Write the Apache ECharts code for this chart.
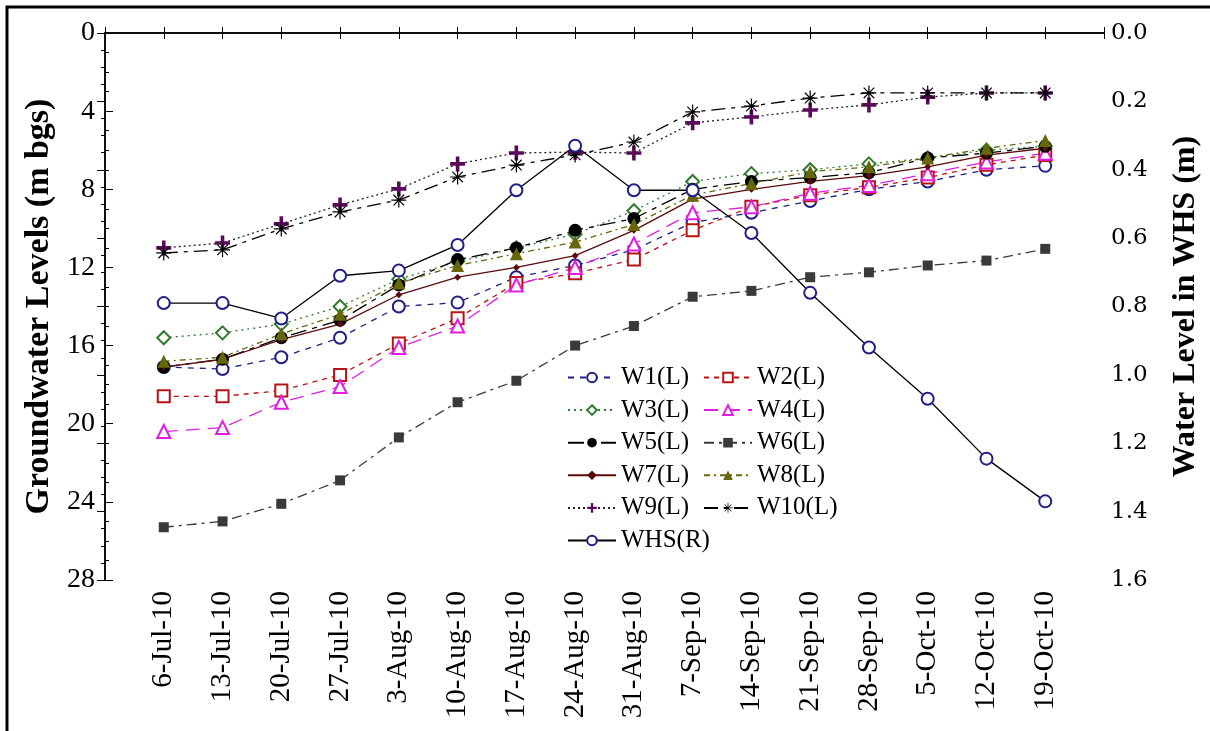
<!DOCTYPE html>
<html>
<head>
<meta charset="utf-8">
<script src="https://cdn.jsdelivr.net/npm/echarts@6/dist/echarts.min.js"></script>
<style>
  html, body { margin: 0; padding: 0; background: #fff; }
  #chart { width: 1210px; height: 731px; }
</style>
</head>
<body>
<div id="chart"></div>
<script>
var dates = ['6-Jul-10', '13-Jul-10', '20-Jul-10', '27-Jul-10', '3-Aug-10', '10-Aug-10', '17-Aug-10', '24-Aug-10',
    '31-Aug-10', '7-Sep-10', '14-Sep-10', '21-Sep-10', '28-Sep-10', '5-Oct-10', '12-Oct-10', '19-Oct-10'];

// groundwater levels, m bgs (left axis)
var w1 = [17.1, 17.2, 16.6, 15.6, 14.0, 13.8, 12.5, 11.9, 11.1, 9.7, 9.2, 8.6, 8.0, 7.6, 7.0, 6.8];
var w2 = [18.6, 18.6, 18.3, 17.5, 15.9, 14.6, 12.8, 12.3, 11.6, 10.1, 8.9, 8.3, 7.9, 7.4, 6.75, 6.25];
var w3 = [15.6, 15.35, 14.9, 14.0, 12.6, 11.7, 11.0, 10.3, 9.1, 7.6, 7.2, 7.0, 6.7, 6.4, 6.0, 5.8];
var w4 = [20.4, 20.2, 18.9, 18.1, 16.1, 15.0, 12.9, 12.0, 10.8, 9.2, 8.9, 8.2, 7.8, 7.2, 6.6, 6.15];
var w5 = [17.1, 16.7, 15.6, 14.7, 12.9, 11.6, 11.0, 10.1, 9.5, 8.0, 7.6, 7.4, 7.15, 6.4, 6.15, 5.8];
var w6 = [25.3, 25.0, 24.1, 22.9, 20.7, 18.9, 17.8, 16.0, 15.0, 13.5, 13.2, 12.5, 12.25, 11.9, 11.65, 11.05];
var w7 = [17.1, 16.7, 15.7, 14.9, 13.4, 12.5, 12.0, 11.4, 10.1, 8.5, 8.0, 7.6, 7.3, 6.85, 6.25, 5.9];
var w8 = [16.8, 16.6, 15.4, 14.4, 12.8, 11.9, 11.3, 10.7, 9.8, 8.3, 7.7, 7.1, 6.85, 6.4, 5.9, 5.5];
var w9 = [11.0, 10.75, 9.77, 8.8, 7.98, 6.7, 6.14, 6.1, 6.14, 4.6, 4.3, 3.94, 3.68, 3.28, 3.07, 3.07];
var w10 = [11.26, 11.1, 10.03, 9.16, 8.55, 7.37, 6.76, 6.24, 5.58, 4.04, 3.74, 3.33, 3.07, 3.07, 3.07, 3.07];
// water level in WHS, m (right axis)
var whs = [0.79, 0.79, 0.835, 0.71, 0.695, 0.62, 0.46, 0.33, 0.46, 0.46, 0.585, 0.76, 0.92, 1.07, 1.245, 1.37];

var legendCol1 = ['W1(L)', 'W3(L)', 'W5(L)', 'W7(L)', 'W9(L)', 'WHS(R)'];
var legendCol2 = ['W2(L)', 'W4(L)', 'W6(L)', 'W8(L)', 'W10(L)'];

var serif = 'Liberation Serif';
var plusPath = 'path://M3.8,0 H6.2 V3.8 H10 V6.2 H6.2 V10 H3.8 V6.2 H0 V3.8 H3.8 Z';
var starPath = 'path://M0,9.2 H20 V10.8 H0 Z M9.2,0 H10.8 V20 H9.2 Z M2.4,3.5 L3.5,2.4 L17.6,16.5 L16.5,17.6 Z M16.5,2.4 L17.6,3.5 L3.5,17.6 L2.4,16.5 Z';

function pts(arr) {
    return arr.map(function (v, i) { return [i + 1, v]; });
}

function line(name, data, color, dash, symbol, size, lineColor, axis) {
    return {
        name: name,
        type: 'line',
        yAxisIndex: axis || 0,
        data: pts(data),
        symbol: symbol,
        symbolSize: size,
        showAllSymbol: true,
        itemStyle: { color: color, borderWidth: 1.3 },
        lineStyle: { color: lineColor || color, width: 1.3, type: dash },
        emphasis: { disabled: true },
        animation: false
    };
}

function legend(left, names) {
    return {
        orient: 'vertical', left: left, top: 365, padding: 0,
        itemWidth: 48, itemHeight: 12, itemGap: 7.6,
        textStyle: { fontFamily: serif, fontSize: 25, color: '#000' },
        data: names
    };
}

var chart = echarts.init(document.getElementById('chart'));
var option = {
    backgroundColor: '#fff',
    animation: false,
    grid: { left: 105, right: 104, top: 33, bottom: 151 },
    legend: [legend(567, legendCol1), legend(703, legendCol2)],
    graphic: [{
        type: 'rect',
        shape: { x: 7, y: 7, width: 1230, height: 760 },
        style: { fill: 'none', stroke: '#000', lineWidth: 3 },
        silent: true
    }],
    xAxis: [{
        type: 'value', min: 0, max: 17, interval: 1, position: 'bottom',
        axisLine: { lineStyle: { color: '#000', width: 1.5 } },
        axisTick: { inside: true, length: 6, lineStyle: { color: '#000' } },
        splitLine: { show: false },
        axisLabel: {
            rotate: 90, margin: 11, fontFamily: serif, fontSize: 29, color: '#000',
            formatter: function (v) { return dates[v - 1] || ''; }
        }
    }, {
        type: 'value', min: 0, max: 17, interval: 1, position: 'top',
        axisLine: { lineStyle: { color: '#000', width: 1.5 } },
        axisTick: { inside: true, length: 6, lineStyle: { color: '#000' } },
        splitLine: { show: false },
        axisLabel: { show: false }
    }],
    yAxis: [{
        type: 'value', inverse: true, min: 0, max: 28, interval: 4, position: 'left',
        name: 'Groundwater Levels (m bgs)', nameLocation: 'middle', nameRotate: 90, nameGap: 47,
        nameTextStyle: { fontFamily: serif, fontSize: 34, fontWeight: 'bold', color: '#000' },
        axisLine: { show: true, lineStyle: { color: '#000', width: 1.5 } },
        axisTick: { inside: true, length: 8, lineStyle: { color: '#000' } },
        minorTick: { show: true, splitNumber: 4, length: 4, lineStyle: { color: '#000' } },
        splitLine: { show: false },
        axisLabel: { fontFamily: serif, fontSize: 28, color: '#000', margin: 10 }
    }, {
        type: 'value', inverse: true, min: 0, max: 1.6, interval: 0.2, position: 'right',
        name: 'Water Level in WHS (m)', nameLocation: 'middle', nameRotate: 90, nameGap: 66,
        nameTextStyle: { fontFamily: serif, fontSize: 32, fontWeight: 'bold', color: '#000' },
        axisLine: { show: true, lineStyle: { color: '#000', width: 1.5 } },
        axisTick: { inside: true, length: 8, lineStyle: { color: '#000' } },
        minorTick: { show: true, splitNumber: 4, length: 4, lineStyle: { color: '#000' } },
        splitLine: { show: false },
        axisLabel: {
            fontFamily: 'DejaVu Serif', fontSize: 23, color: '#000', margin: 7,
            formatter: function (v) { return v.toFixed(1); }
        }
    }],
    series: [
        line('W1(L)', w1, '#1f1f86', [6, 6], 'emptyCircle', 12),
        line('W2(L)', w2, '#b81414', [5, 5], 'emptyRect', 12),
        line('W3(L)', w3, '#2f7a2f', [2, 4], 'emptyDiamond', 13),
        line('W4(L)', w4, '#e01ee0', [14, 8], 'emptyTriangle', 13),
        line('W5(L)', w5, '#000000', [16, 6, 5, 6], 'circle', 13),
        line('W6(L)', w6, '#3a3a3a', [10, 5, 3, 5], 'rect', 10),
        line('W7(L)', w7, '#5c0b0b', 'solid', 'diamond', 7),
        line('W8(L)', w8, '#66660a', [6, 4, 2, 4], 'triangle', 13),
        line('W9(L)', w9, '#5a0a5a', [2, 3], plusPath, 15, '#222'),
        line('W10(L)', w10, '#000000', [14, 6, 4, 6], starPath, 15),
        line('WHS(R)', whs, '#1f1f86', 'solid', 'emptyCircle', 12, '#000', 1)
    ]
};
chart.setOption(option);
</script>
</body>
</html>
